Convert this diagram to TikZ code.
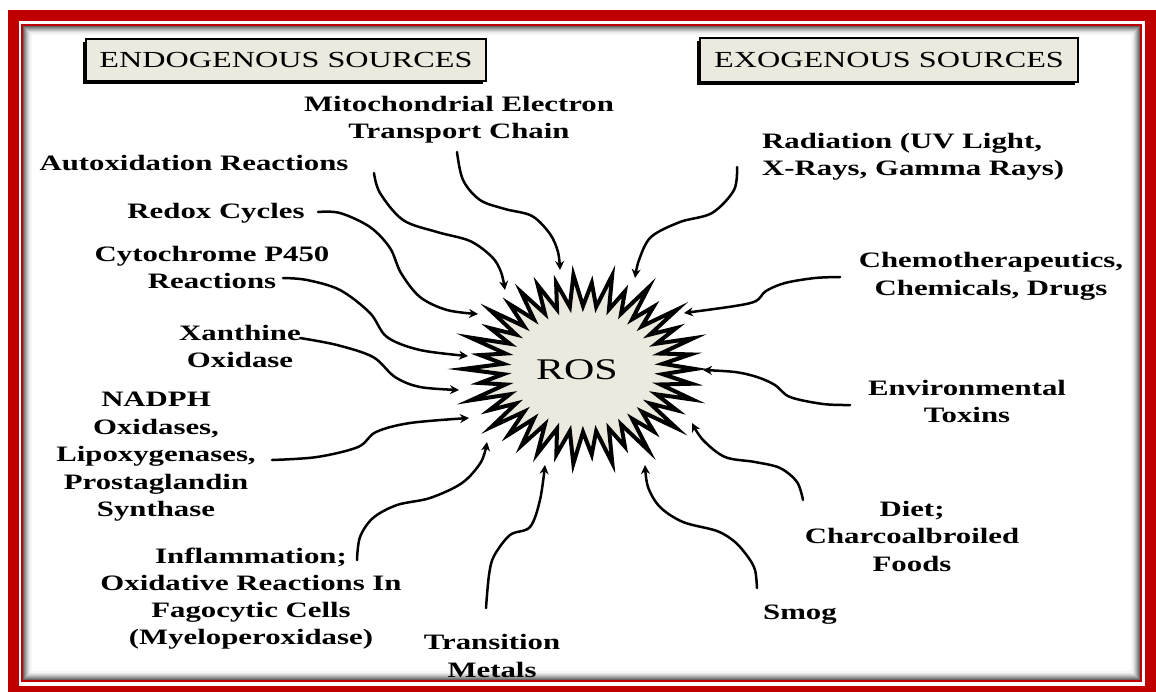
\documentclass[tikz,border=0pt]{standalone}
\usepackage{fontspec}
\setmainfont{Liberation Serif}[FakeStretch=1.4]
\usetikzlibrary{arrows.meta,shadows}
\definecolor{framered}{HTML}{C00000}
\definecolor{beige}{HTML}{ECEADF}
\begin{document}
\begin{tikzpicture}[x=1pt,y=-1pt,
  lab/.style={font=\bfseries\fontsize{22}{27}\selectfont, align=center, inner sep=0pt},
  arr/.style={line width=2.5pt, -{Stealth[length=9pt,width=9pt]}, line cap=round, line join=round},
  tbox/.style={draw=black, line width=1.6pt, fill=beige, inner sep=0pt,
    font=\fontsize{23}{23}\selectfont,
    drop shadow={shadow xshift=-3.5pt, shadow yshift=-3pt, fill=black, opacity=1}}]
\useasboundingbox (0,0) rectangle (1156,691);
\fill[white] (0,0) rectangle (1156,691);
% frame
\draw[framered, line width=11pt] (13.5,15.5) rectangle (1150,691.5);
\draw[framered, line width=2.2pt] (22,25) rectangle (1141,681);
\foreach \i/\g in {1/60,2/50,3/40,4/31,5/23,6/15,7/9,8/4}
  \draw[black!\g, line width=1.1pt] (23+\i,26+\i) rectangle (1140-\i,680-\i);
% titles
\node[tbox, minimum width=400pt, minimum height=42pt] (endo) at (286,60) {ENDOGENOUS SOURCES};
\node[tbox, minimum width=378pt, minimum height=44pt] (exo) at (889,60) {EXOGENOUS SOURCES};
% starburst
\draw[line width=4pt, fill=beige, line join=miter, miter limit=25]
  plot[samples at={0,1,...,75}, variable=\t]
  ({583+(96+16*cos(180*\t))*(1+0.07*sin(97*\t)*(1+cos(180*\t))/2)*cos((360/76)*\t)},
   {369+(77+14*cos(180*\t))*(1+0.07*sin(97*\t)*(1+cos(180*\t))/2)*sin((360/76)*\t)}) -- cycle;
\node[font=\fontsize{30}{30}\selectfont, inner sep=0pt] (ros) at (577,370) {ROS};
% labels
\node[lab] (mito) at (459,120) {Mitochondrial Electron\\Transport Chain};
\node[lab] (autox) at (194,163) {Autoxidation Reactions};
\node[lab] (redox) at (216,213) {Redox Cycles};
\node[lab] (cyto) at (212,267) {Cytochrome P450\\Reactions};
\node[lab] (xan) at (240,346) {Xanthine\\Oxidase};
\node[lab, font=\bfseries\fontsize{22}{27.5}\selectfont] (nadph) at (156,457) {NADPH\\Oxidases,\\Lipoxygenases,\\Prostaglandin\\Synthase};
\node[lab] (infl) at (251,599) {Inflammation;\\Oxidative Reactions In\\Fagocytic Cells\\(Myeloperoxidase)};
\node[lab, font=\bfseries\fontsize{22}{28}\selectfont] (trans) at (492,656) {Transition\\Metals};
\node[lab] (smog) at (800,615) {Smog};
\node[lab, font=\bfseries\fontsize{22}{27.5}\selectfont] (diet) at (912,536) {Diet;\\Charcoalbroiled\\Foods};
\node[lab] (env) at (967,401) {Environmental\\Toxins};
\node[lab, font=\bfseries\fontsize{22}{28}\selectfont] (chemo) at (991,276) {Chemotherapeutics,\\Chemicals, Drugs};
\node[lab, align=left, anchor=west] (rad) at (762,157) {Radiation (UV Light,\\X-Rays, Gamma Rays)};
% connector ends
\coordinate (mitoS) at (457,152);  \coordinate (mitoT) at (560,270);
\coordinate (autoxS) at (374,173); \coordinate (autoxT) at (505,290);
\coordinate (redoxS) at (318,212); \coordinate (redoxT) at (478,314);
\coordinate (cytoS) at (283,278);  \coordinate (cytoT) at (468,356);
\coordinate (xanS) at (300,338);   \coordinate (xanT) at (459,390);
\coordinate (nadphS) at (272,460); \coordinate (nadphT) at (469,418);
\coordinate (inflS) at (357,560);  \coordinate (inflT) at (487,442);
\coordinate (transS) at (486,608); \coordinate (transT) at (545,465);
\coordinate (smogS) at (757,588);  \coordinate (smogT) at (645,465);
\coordinate (dietS) at (803,500);  \coordinate (dietT) at (692,423);
\coordinate (envS) at (850,405);   \coordinate (envT) at (703,370);
\coordinate (chemoS) at (840,277); \coordinate (chemoT) at (684,313);
\coordinate (radS) at (737,167);   \coordinate (radT) at (635,278);
% connectors
\draw[arr] plot[smooth, tension=0.55] coordinates {(mitoS) (463,180) (480,200) (505,209) (532,216) (550,234) (558,252) (mitoT)};
\draw[arr] plot[smooth, tension=0.55] coordinates {(autoxS) (380,193) (403,220) (437,232) (470,241) (492,257) (501,272) (autoxT)};
\draw[arr] plot[smooth, tension=0.55] coordinates {(redoxS) (340,213) (370,227) (390,248) (401,273) (420,297) (447,310) (redoxT)};
\draw[arr] plot[smooth, tension=0.55] coordinates {(cytoS) (307,280) (340,290) (370,313) (387,337) (420,350) (cytoT)};
\draw[arr] plot[smooth, tension=0.55] coordinates {(xanS) (337,345) (373,357) (395,377) (420,387) (xanT)};
\draw[arr] plot[smooth, tension=0.55] coordinates {(nadphS) (317,457) (358,447) (376,432) (410,423) (nadphT)};
\draw[arr] plot[smooth, tension=0.55] coordinates {(inflS) (360,537) (373,518) (397,505) (430,498) (462,483) (481,462) (inflT)};
\draw[arr] plot[smooth, tension=0.55] coordinates {(transS) (489,575) (494,556) (510,535) (530,527) (540,500) (transT)};
\draw[arr] plot[smooth, tension=0.55] coordinates {(smogS) (755,570) (748,557) (735,542) (717,531) (683,522) (660,507) (648,487) (smogT)};
\draw[arr] plot[smooth, tension=0.55] coordinates {(dietS) (797,482) (780,468) (755,462) (725,457) (703,440) (dietT)};
\draw[arr] plot[smooth, tension=0.55] coordinates {(envS) (823,404) (790,397) (775,385) (757,377) (735,372) (envT)};
\draw[arr] plot[smooth, tension=0.55] coordinates {(chemoS) (815,278) (785,283) (766,291) (756,301) (735,306) (chemoT)};
\draw[arr] plot[smooth, tension=0.55] coordinates {(radS) (734,190) (712,213) (680,222) (651,237) (639,260) (radT)};
\end{tikzpicture}
\end{document}
